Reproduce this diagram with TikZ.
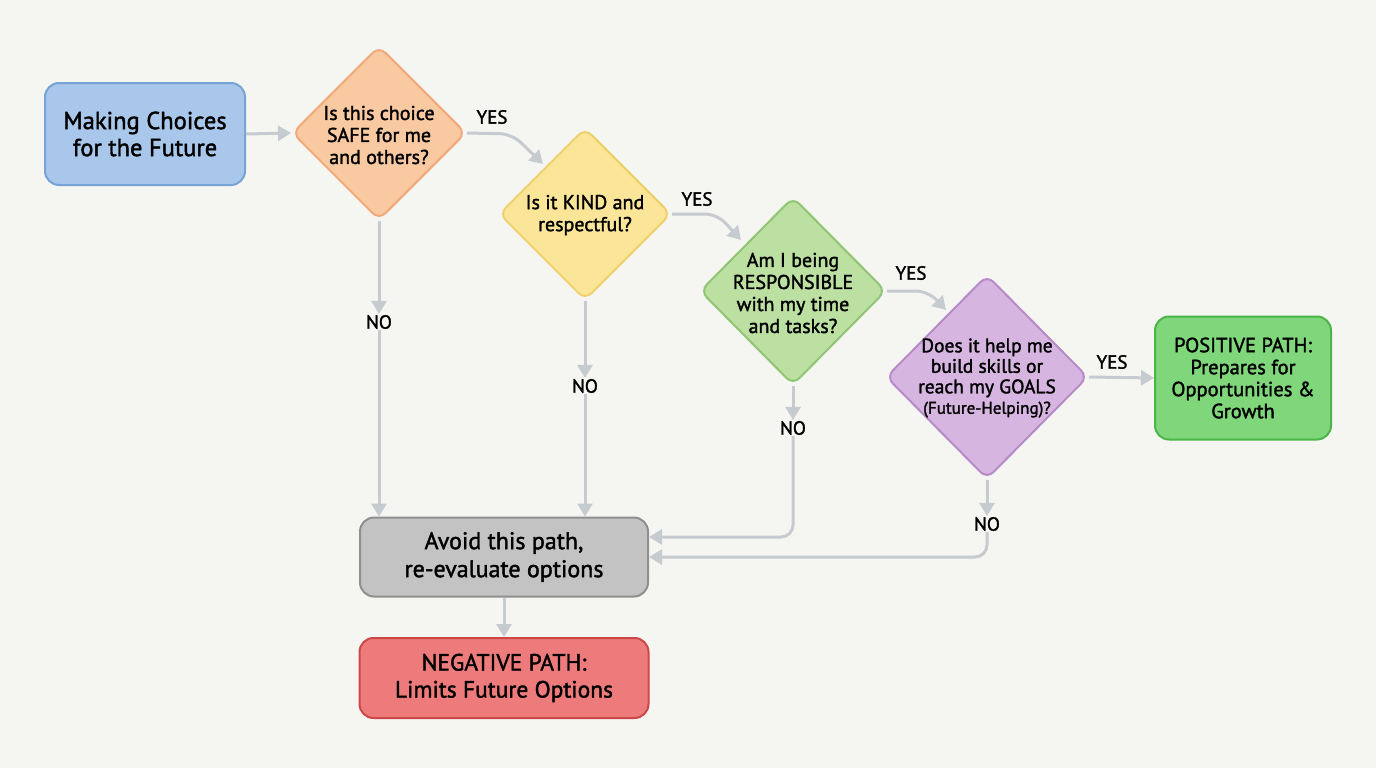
\documentclass[tikz,border=0pt]{standalone}
\usepackage{fontspec}
\setmainfont{PT Sans}[FakeBold=1.6]
\usetikzlibrary{shapes.geometric,arrows.meta,calc}
\definecolor{bg}{HTML}{F5F5F1}
\definecolor{arrc}{HTML}{C6CBD0}
\definecolor{blueF}{HTML}{A9C7EA}\definecolor{blueD}{HTML}{78A3D5}
\definecolor{orF}{HTML}{F9C9A2}\definecolor{orD}{HTML}{F1A97A}
\definecolor{yeF}{HTML}{FBE598}\definecolor{yeD}{HTML}{F0D06C}
\definecolor{grF}{HTML}{BCDFA2}\definecolor{grD}{HTML}{90C574}
\definecolor{puF}{HTML}{D7B5E1}\definecolor{puD}{HTML}{B68BC7}
\definecolor{poF}{HTML}{80D67B}\definecolor{poD}{HTML}{4CB548}
\definecolor{gyF}{HTML}{C3C3C3}\definecolor{gyD}{HTML}{8F8F8F}
\definecolor{reF}{HTML}{EE7B7B}\definecolor{reD}{HTML}{CC4848}
\tikzset{
  box/.style={draw, line width=2pt, rounded corners=14pt, inner sep=0pt, align=center, text=black},
  dia/.style={diamond, draw, line width=2pt, rounded corners=9pt, inner sep=0pt},
  dtext/.style={align=center, font=\fontsize{20}{22}\selectfont, inner sep=0pt, text=black},
  btext/.style={font=\fontsize{24.5}{27}\selectfont},
  lab/.style={font=\fontsize{19}{22}\selectfont, inner sep=1pt, text=black},
  arr/.style={draw=arrc, line width=3pt, -{Triangle[width=15pt,length=13pt]}, rounded corners=12pt},
}
\begin{document}
\begin{tikzpicture}[x=1pt,y=-1pt]
\useasboundingbox[fill=bg] (0,0) rectangle (1376,768);
% boxes
\node[box, fill=blueF, draw=blueD, minimum width=200pt, minimum height=102pt, btext] (start) at (145,134) {Making Choices\\for the Future};
\node[box, fill=poF, draw=poD, minimum width=176pt, minimum height=123pt, font=\fontsize{20.5}{22}\selectfont] (pos) at (1243,378) {POSITIVE PATH:\\Prepares for\\Opportunities \&\\Growth};
\node[box, fill=gyF, draw=gyD, minimum width=288pt, minimum height=79pt, font=\fontsize{24}{28}\selectfont] (av) at (504,557) {Avoid this path,\\re-evaluate options};
\node[box, fill=reF, draw=reD, minimum width=289pt, minimum height=80pt, font=\fontsize{23.5}{27}\selectfont] (neg) at (504,678) {NEGATIVE PATH:\\Limits Future Options};
% diamonds
\node[dia, fill=orF, draw=orD, minimum width=174pt, minimum height=174pt] (d1) at (379,133) {};
\node[dtext] (t1) at (379,135) {Is this choice\\SAFE for me\\and others?};
\node[dia, fill=yeF, draw=yeD, minimum width=172pt, minimum height=172pt] (d2) at (585,214) {};
\node[dtext] (t2) at (585,215) {Is it KIND and\\respectful?};
\node[dia, fill=grF, draw=grD, minimum width=186pt, minimum height=188pt] (d3) at (793,291) {};
\node[dtext] (t3) at (793,293) {Am I being\\RESPONSIBLE\\with my time\\and tasks?};
\node[dia, fill=puF, draw=puD, minimum width=202pt, minimum height=204pt] (d4) at (987,377) {};
\node[dtext, font=\fontsize{19.5}{20.5}\selectfont] (t4) at (987,378) {Does it help me\\build skills or\\reach my GOALS\\{\fontsize{17}{20.5}\selectfont(Future-Helping)?}};
% labels
\node[lab] (y1) at (492,117) {YES};
\node[lab] (y2) at (697,199) {YES};
\node[lab] (y3) at (911,273) {YES};
\node[lab] (y4) at (1112,362) {YES};
\node[lab] (n1) at (379,322) {NO};
\node[lab] (n2) at (585,386) {NO};
\node[lab] (n3) at (793,428) {NO};
\node[lab] (n4) at (987,524) {NO};
% helper coordinates
\coordinate (c1) at (512,134);
\coordinate (e2) at (543,164);
\coordinate (c2) at (717,214);
\coordinate (e3) at (741,240);
\coordinate (c3) at (928,291);
\coordinate (e4) at (946,310);
% connectors
\draw[arr] (start.east) -- (d1.west);
\draw[arr] (d1.east) -- (c1) -- (e2);
\draw[arr] (d2.east) -- (c2) -- (e3);
\draw[arr] (d3.east) -- (c3) -- (e4);
\draw[arr, rounded corners=0pt] (d4.east) -- (pos.west);
\draw[arr] (d1.south) -- (n1.north);
\draw[arr] (n1.south) -- (n1.south |- av.north);
\draw[arr] (d2.south) -- (n2.north);
\draw[arr] (n2.south) -- (n2.south |- av.north);
\draw[arr] (d3.south) -- (n3.north);
\draw[arr] (n3.south) -- ($(n3.south |- av.east)+(0,-20)$) -- ($(av.east)+(0,-20)$);
\draw[arr] (d4.south) -- (n4.north);
\draw[arr] (n4.south) -- (n4.south |- av.east) -- (av.east);
\draw[arr] (av.south) -- (neg.north);
\end{tikzpicture}
\end{document}
